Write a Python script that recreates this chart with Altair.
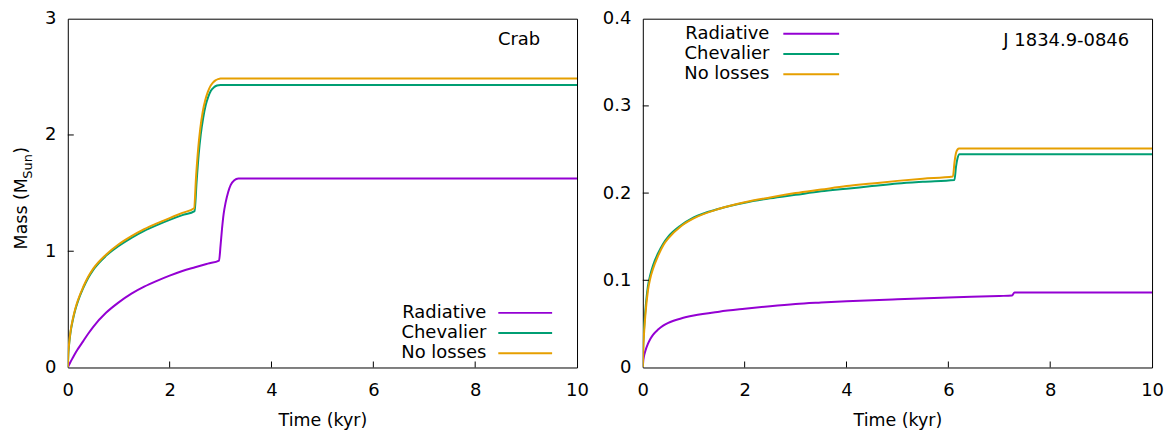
import altair as alt
import pandas as pd

# ---------------- Crab (left panel) ----------------
crab_rad_t = [0, 0.05, 0.1, 0.15, 0.2, 0.3, 0.4, 0.5, 0.75, 1.0, 1.25, 1.5, 1.75, 2.0, 2.25, 2.5, 2.75, 2.97,
              3.0, 3.03, 3.06, 3.1, 3.15, 3.2, 3.27, 3.35, 10]
crab_rad_m = [0, 0.045, 0.085, 0.125, 0.16, 0.225, 0.29, 0.35, 0.47, 0.56, 0.635, 0.695, 0.745, 0.79, 0.83,
              0.862, 0.893, 0.92,
              1.05, 1.2, 1.32, 1.42, 1.51, 1.57, 1.61, 1.625, 1.625]

crab_chev_t = [0, 0.01, 0.02, 0.05, 0.1, 0.15, 0.2, 0.3, 0.4, 0.5, 0.75, 1.0, 1.25, 1.5, 1.75, 2.0, 2.25, 2.49,
               2.53, 2.57, 2.61, 2.66, 2.71, 2.76, 2.81, 2.87, 2.93, 3.0, 10]
crab_chev_m = [0, 0.11, 0.17, 0.29, 0.41, 0.5, 0.57, 0.68, 0.77, 0.84, 0.96, 1.045, 1.115, 1.175, 1.225, 1.27,
               1.31, 1.345,
               1.6, 1.83, 2.0, 2.15, 2.26, 2.33, 2.38, 2.41, 2.425, 2.43, 2.43]

crab_nol_t = [0, 0.01, 0.02, 0.05, 0.1, 0.15, 0.2, 0.3, 0.4, 0.5, 0.75, 1.0, 1.25, 1.5, 1.75, 2.0, 2.25, 2.48,
              2.52, 2.56, 2.6, 2.65, 2.7, 2.75, 2.8, 2.85, 2.9, 2.95, 3.0, 10]
crab_nol_m = [0, 0.12, 0.18, 0.3, 0.42, 0.51, 0.58, 0.69, 0.78, 0.85, 0.97, 1.06, 1.13, 1.19, 1.24, 1.285,
              1.33, 1.37,
              1.65, 1.88, 2.05, 2.2, 2.3, 2.37, 2.42, 2.45, 2.47, 2.48, 2.485, 2.485]

# ---------------- J 1834.9-0846 (right panel) ----------------
j_rad_t = [0, 0.01, 0.02, 0.05, 0.1, 0.15, 0.2, 0.3, 0.4, 0.5, 0.75, 1.0, 1.5, 2.0, 2.5, 3.0, 3.5, 4.0, 5.0,
           6.0, 7.0, 7.25, 7.3, 10]
j_rad_m = [0, 0.008, 0.012, 0.019, 0.027, 0.033, 0.0375, 0.0435, 0.048, 0.0512, 0.0562, 0.0596, 0.064,
           0.0673, 0.0703, 0.0728, 0.0745, 0.076, 0.0783, 0.0803, 0.082, 0.0825, 0.086, 0.086]

j_chev_t = [0, 0.01, 0.02, 0.05, 0.1, 0.15, 0.2, 0.3, 0.4, 0.5, 0.75, 1.0, 1.5, 2.0, 2.5, 3.0, 3.5, 4.0,
            4.5, 5.0, 5.5, 6.12, 6.15, 6.18, 6.22, 10]
j_chev_m = [0, 0.028, 0.04, 0.065, 0.093, 0.107, 0.117, 0.131, 0.142, 0.15, 0.163, 0.172, 0.182, 0.189,
            0.194, 0.198, 0.202, 0.205, 0.208, 0.211, 0.213, 0.215, 0.23, 0.24, 0.2445, 0.2445]

j_nol_t = [0, 0.01, 0.02, 0.05, 0.1, 0.15, 0.2, 0.3, 0.4, 0.5, 0.75, 1.0, 1.5, 2.0, 2.5, 3.0, 3.5, 4.0,
           4.5, 5.0, 5.5, 6.09, 6.12, 6.15, 6.18, 6.21, 10]
j_nol_m = [0, 0.024, 0.035, 0.06, 0.088, 0.103, 0.113, 0.128, 0.14, 0.148, 0.162, 0.171, 0.182, 0.1895,
           0.195, 0.2, 0.204, 0.208, 0.211, 0.214, 0.2165, 0.219, 0.235, 0.246, 0.25, 0.251, 0.251]

labels = ["Radiative", "Chevalier", "No losses"]
colors = ["#9400D3", "#009E73", "#E69F00"]

x_ticks = [0, 2, 4, 6, 8, 10]
crab_y_ticks = [0, 1, 2, 3]
j_y_ticks = [0, 0.1, 0.2, 0.3, 0.4]

W, H = 511, 350
FONT = "DejaVu Sans"


def panel(series, ymax, yticks, yfmt, leg_text_x, leg_x1, leg_x2, leg_rows, name, name_x, name_y, ytitle=False):
    x_scale = alt.Scale(domain=[0, 10], nice=False, zero=False)
    y_scale = alt.Scale(domain=[0, ymax], nice=False, zero=False)
    x_axis = alt.Axis(values=x_ticks, format="d", title="Time (kyr)", labelPadding=14, titlePadding=12,
                      labelFlush=False)
    y_axis = alt.Axis(values=yticks, format=yfmt, title=None, labelPadding=12, labelFlush=False)
    layers = []
    for (t, m), col in zip(series, colors):
        df = pd.DataFrame({"t": t, "m": m})
        layers.append(
            alt.Chart(df).mark_line(color=col, strokeWidth=2, clip=True, interpolate="monotone").encode(
                x=alt.X("t:Q", scale=x_scale, axis=x_axis),
                y=alt.Y("m:Q", scale=y_scale, axis=y_axis),
            )
        )
    # inward ticks
    xt = pd.DataFrame({"v": x_ticks[1:-1]})
    layers.append(
        alt.Chart(xt).mark_rule(color="black", strokeWidth=1).encode(
            x=alt.X("v:Q", scale=x_scale, axis=x_axis), y=alt.value(H), y2=alt.value(H - 6)
        )
    )
    yt = pd.DataFrame({"v": yticks[1:-1]})
    layers.append(
        alt.Chart(yt).mark_rule(color="black", strokeWidth=1).encode(
            y=alt.Y("v:Q", scale=y_scale, axis=y_axis), x=alt.value(0), x2=alt.value(6)
        )
    )
    # legend
    for lab, col, ry in zip(labels, colors, leg_rows):
        d = pd.DataFrame({"label": [lab]})
        layers.append(
            alt.Chart(d).mark_text(align="right", baseline="middle", fontSize=18, font=FONT, color="black").encode(
                text="label:N", x=alt.value(leg_text_x), y=alt.value(ry)
            )
        )
        layers.append(
            alt.Chart(d).mark_rule(color=col, strokeWidth=2).encode(
                x=alt.value(leg_x1), x2=alt.value(leg_x2), y=alt.value(ry)
            )
        )
    # panel name
    nd = pd.DataFrame({"label": [name]})
    layers.append(
        alt.Chart(nd).mark_text(align="right", baseline="middle", fontSize=18, font=FONT, color="black").encode(
            text="label:N", x=alt.value(name_x), y=alt.value(name_y)
        )
    )
    if ytitle:
        parts = [("Mass (M", 17.5, 231.5, -40.5), ("Sun", 13, 160.5, -36), (")", 17.5, 135.5, -40.5)]
        for txt, fs, yy, xx in parts:
            d = pd.DataFrame({"label": [txt]})
            layers.append(
                alt.Chart(d).mark_text(align="left", baseline="alphabetic", angle=270, fontSize=fs,
                                       font=FONT, color="black").encode(
                    text="label:N", x=alt.value(xx), y=alt.value(yy)
                )
            )
    return alt.layer(*layers).properties(width=W, height=H)


left = panel(
    [(crab_rad_t, crab_rad_m), (crab_chev_t, crab_chev_m), (crab_nol_t, crab_nol_m)],
    3, crab_y_ticks, "d", 420, 432, 486, [295.2, 315.5, 335.8], "Crab", 474, 21.5, ytitle=True,
)
right = panel(
    [(j_rad_t, j_rad_m), (j_chev_t, j_chev_m), (j_nol_t, j_nol_m)],
    0.4, j_y_ticks, "~g", 127, 141, 197, [15.2, 35.5, 55.8], "J 1834.9-0846", 488, 22.5,
)

chart = (
    alt.hconcat(left, right, spacing=12)
    .properties(padding={"left": 5, "top": 0, "right": 0, "bottom": 0})
    .configure_view(stroke="black", strokeWidth=1)
    .configure_axis(
        domain=False, ticks=False, grid=False,
        labelFont=FONT, labelFontSize=18, labelColor="black",
        titleFont=FONT, titleFontSize=17.5, titleFontWeight="normal", titleColor="black",
    )
)

chart.save("out.html", embed_options={"renderer": "svg", "actions": False})
